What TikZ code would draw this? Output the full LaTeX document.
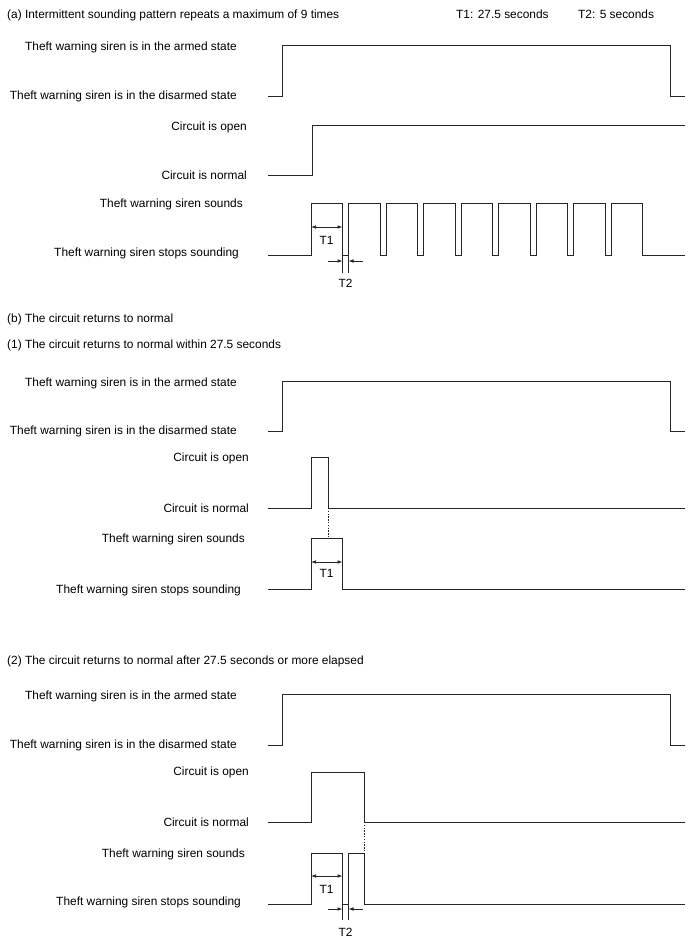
\documentclass[tikz,border=0pt]{standalone}
\usepackage{fontspec}
\setmainfont{Liberation Sans}
\usetikzlibrary{arrows.meta}
\begin{document}
\begin{tikzpicture}[x=1pt,y=-1pt,
  wave/.style={line width=1pt,line join=miter,black!85},
  lbl/.style={anchor=base east,inner sep=0pt,font=\fontsize{11.9}{14}\selectfont},
  ttl/.style={anchor=base west,inner sep=0pt,font=\fontsize{11.9}{14}\selectfont},
  tlab/.style={anchor=center,inner sep=0pt,font=\fontsize{11.9}{14}\selectfont},
  dimline/.style={line width=0.7pt,black!85},
  dimboth/.style={line width=0.7pt,black!85,{Latex[length=5pt,width=3.6pt]}-{Latex[length=5pt,width=3.6pt]}},
  dimone/.style={line width=0.7pt,black!85,-{Latex[length=5pt,width=3.6pt]}},
  dots/.style={line width=1pt,dash pattern=on 1.4pt off 1.4pt,black!85}]
\useasboundingbox (0,0) rectangle (688,949);

% ---------------- (a) ----------------
\node[ttl] (ha) at (7,19) {(a) Intermittent sounding pattern repeats a maximum of 9 times};
\node[ttl] (ht1) at (456,19) {T1: 27.5 seconds};
\node[ttl] (ht2) at (578,19) {T2: 5 seconds};

\node[lbl] (a-arm) at (237,51) {Theft warning siren is in the armed state};
\node[lbl] (a-dis) at (237,100) {Theft warning siren is in the disarmed state};
\draw[wave] (268,97) -- (282,97) -- (282,46) -- (670,46) -- (670,97) -- (685,97);

\node[lbl] (a-open) at (247,131) {Circuit is open};
\node[lbl] (a-norm) at (247,180) {Circuit is normal};
\draw[wave] (268,176) -- (312,176) -- (312,126) -- (685,126);

\node[lbl] (a-snd) at (243,208) {Theft warning siren sounds};
\node[lbl] (a-stp) at (239,257) {Theft warning siren stops sounding};
\draw[wave] (268,256) \foreach \k in {0,...,8}{ -- ({311+37.5*\k},256) -- ({311+37.5*\k},204) -- ({342.5+37.5*\k},204) -- ({342.5+37.5*\k},256) } -- (685,256);

\coordinate (aT1l) at (311,227);
\coordinate (aT1r) at (342.5,227);
\draw[dimboth] (aT1l) -- (aT1r);
\node[tlab] (aT1) at (326.5,240) {T1};

\coordinate (aE1t) at (342.5,256);
\coordinate (aE1b) at (342.5,273);
\coordinate (aE2t) at (348.5,256);
\coordinate (aE2b) at (348.5,273);
\draw[dimline] (aE1t) -- (aE1b);
\draw[dimline] (aE2t) -- (aE2b);
\coordinate (aT2a) at (328,261);
\coordinate (aT2b) at (342.5,261);
\coordinate (aT2c) at (363,261);
\coordinate (aT2d) at (348.5,261);
\draw[dimone] (aT2a) -- (aT2b);
\draw[dimone] (aT2c) -- (aT2d);
\node[tlab] (aT2) at (345.5,283) {T2};

% ---------------- (b) ----------------
\node[ttl] (hb) at (7,322) {(b) The circuit returns to normal};
\node[ttl] (hb1) at (7,348) {(1) The circuit returns to normal within 27.5 seconds};

\node[lbl] (b-arm) at (237,386) {Theft warning siren is in the armed state};
\node[lbl] (b-dis) at (237,434) {Theft warning siren is in the disarmed state};
\draw[wave] (268,431) -- (282,431) -- (282,381) -- (670,381) -- (670,431) -- (685,431);

\node[lbl] (b-open) at (249,461) {Circuit is open};
\node[lbl] (b-norm) at (249,512) {Circuit is normal};
\draw[wave] (268,508) -- (311,508) -- (311,457) -- (328.3,457) -- (328.3,508) -- (685,508);

\node[lbl] (b-snd) at (245,542) {Theft warning siren sounds};
\node[lbl] (b-stp) at (241,593) {Theft warning siren stops sounding};
\draw[wave] (268,589) -- (311,589) -- (311,538) -- (342.5,538) -- (342.5,589) -- (685,589);

\coordinate (bD1) at (328.3,508);
\coordinate (bD2) at (328.3,538);
\draw[dots] (bD1) -- (bD2);

\coordinate (bT1l) at (311,562);
\coordinate (bT1r) at (342.5,562);
\draw[dimboth] (bT1l) -- (bT1r);
\node[tlab] (bT1) at (326.5,573) {T1};

% ---------------- (b)(2) ----------------
\node[ttl] (hb2) at (7,664) {(2) The circuit returns to normal after 27.5 seconds or more elapsed};

\node[lbl] (c-arm) at (237,699) {Theft warning siren is in the armed state};
\node[lbl] (c-dis) at (237,748) {Theft warning siren is in the disarmed state};
\draw[wave] (268,745) -- (282,745) -- (282,694) -- (670,694) -- (670,745) -- (685,745);

\node[lbl] (c-open) at (249,775) {Circuit is open};
\node[lbl] (c-norm) at (249,826) {Circuit is normal};
\draw[wave] (268,822) -- (311,822) -- (311,772) -- (364.3,772) -- (364.3,822) -- (685,822);

\node[lbl] (c-snd) at (245,857) {Theft warning siren sounds};
\node[lbl] (c-stp) at (241,905) {Theft warning siren stops sounding};
\draw[wave] (268,904) -- (311,904) -- (311,853) -- (342.5,853) -- (342.5,904) -- (348.5,904) -- (348.5,853) -- (364.3,853) -- (364.3,904) -- (685,904);

\coordinate (cD1) at (364.3,822);
\coordinate (cD2) at (364.3,853);
\draw[dots] (cD1) -- (cD2);

\coordinate (cT1l) at (311,876);
\coordinate (cT1r) at (342.5,876);
\draw[dimboth] (cT1l) -- (cT1r);
\node[tlab] (cT1) at (326.5,889) {T1};

\coordinate (cE1t) at (342.5,904);
\coordinate (cE1b) at (342.5,920);
\coordinate (cE2t) at (348.5,904);
\coordinate (cE2b) at (348.5,920);
\draw[dimline] (cE1t) -- (cE1b);
\draw[dimline] (cE2t) -- (cE2b);
\coordinate (cT2a) at (328,909);
\coordinate (cT2b) at (342.5,909);
\coordinate (cT2c) at (363,909);
\coordinate (cT2d) at (348.5,909);
\draw[dimone] (cT2a) -- (cT2b);
\draw[dimone] (cT2c) -- (cT2d);
\node[tlab] (cT2) at (345.5,932) {T2};
\end{tikzpicture}
\end{document}
